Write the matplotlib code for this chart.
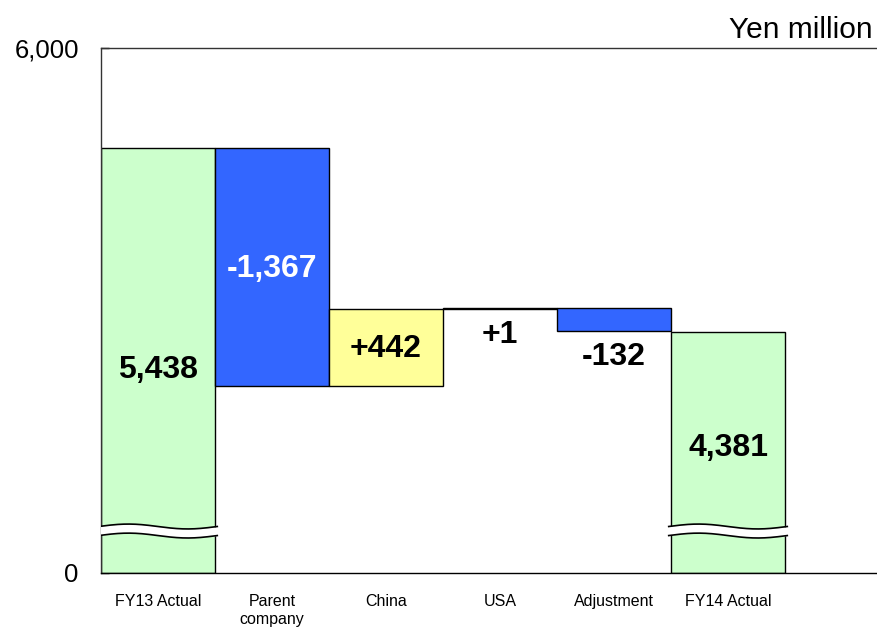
import numpy as np
import matplotlib
matplotlib.use("Agg")
import matplotlib.pyplot as plt

plt.rcParams['font.family'] = ['Liberation Sans', 'DejaVu Sans']

# Operating profit bridge, FY13 -> FY14 (Yen million)
categories = ["FY13 Actual", "Parent\ncompany", "China", "USA", "Adjustment", "FY14 Actual"]
start_value = 5438
changes = [-1367, 442, 1, -132]
end_value = 4381
value_labels = ["5,438", "-1,367", "+442", "+1", "-132", "4,381"]
y_tick_labels = ["0", "6,000"]

GREEN = "#CCFFCC"
BLUE = "#3366FF"
YELLOW = "#FFFF99"

# broken value axis: the bottom of the plot stands for zero
axis_low, axis_high = 2995, 6010
break_at = 3236

fig = plt.figure(figsize=(8.77, 6.30), dpi=100)
ax = fig.add_axes([101 / 877, 57 / 630, 776 / 877, 525 / 630])
ax.set_xlim(-0.5, 6.307)
ax.set_ylim(axis_low, axis_high)

x = np.arange(len(categories))
width = 1.0

# end bars
for xi, val in ((x[0], start_value), (x[-1], end_value)):
    ax.bar(xi, val - axis_low, bottom=axis_low, width=width, color=GREEN,
           edgecolor="black", linewidth=1.0, zorder=2)

# floating change bars
level = start_value
for i, d in enumerate(changes):
    lo, hi = (level + d, level) if d < 0 else (level, level + d)
    if d < 0:
        col = BLUE
    elif i == 1:
        col = YELLOW
    else:
        col = "white"
    ax.bar(x[i + 1], hi - lo, bottom=lo, width=width, color=col,
           edgecolor="black", linewidth=1.0, zorder=2)
    level += d

# wavy break marks on the end bars
t = np.linspace(0, 1, 200)
for xi in (x[0], x[-1]):
    xs = xi - 0.52 + 1.04 * t
    wave = 14 * np.sin(2 * np.pi * t)
    upper = break_at + 26 + wave
    lower = break_at - 26 + wave
    ax.fill_between(xs, lower, upper, color="white", zorder=3, lw=0)
    ax.plot(xs, upper, color="black", lw=1.2, zorder=4)
    ax.plot(xs, lower, color="black", lw=1.2, zorder=4)

# value labels
level = start_value
label_y = [(start_value + axis_low) / 2]
label_off = [-10]
for d in changes:
    lo, hi = (level + d, level) if d < 0 else (level, level + d)
    if abs(d) > 300:
        label_y.append((lo + hi) / 2)
        label_off.append(-2)
    else:
        label_y.append(lo)
        label_off.append(-26)
    level += d
label_y.append((end_value + axis_low) / 2)
label_off.append(4)

for i, (txt, yv, off) in enumerate(zip(value_labels, label_y, label_off)):
    color = "white" if i == 1 else "black"
    ax.annotate(txt, (x[i], yv), xytext=(0, off * 0.72), textcoords="offset points",
                ha="center", va="center", fontsize=23, fontweight="bold",
                color=color, zorder=5)

# axes styling
ax.set_yticks([axis_low, axis_high])
ax.set_yticklabels(y_tick_labels, fontsize=18.5)
ax.tick_params(axis="y", direction="in", length=6, width=1.0, pad=16)
ax.set_xticks(x)
ax.set_xticklabels(categories, fontsize=11.5, linespacing=1.3, va="top")
ax.tick_params(axis="x", length=0, pad=15)
ax.spines["right"].set_visible(False)
for s in ("left", "top", "bottom"):
    ax.spines[s].set_linewidth(1.0)
ax.spines["top"].set_color("#333333")
ax.spines["left"].set_color("#333333")

ax.text(873 / 877 * 877 / 776 - 101 / 776, 1.008, "Yen million", transform=ax.transAxes,
        ha="right", va="bottom", fontsize=21.5)

fig.savefig("out.png", dpi=100)
